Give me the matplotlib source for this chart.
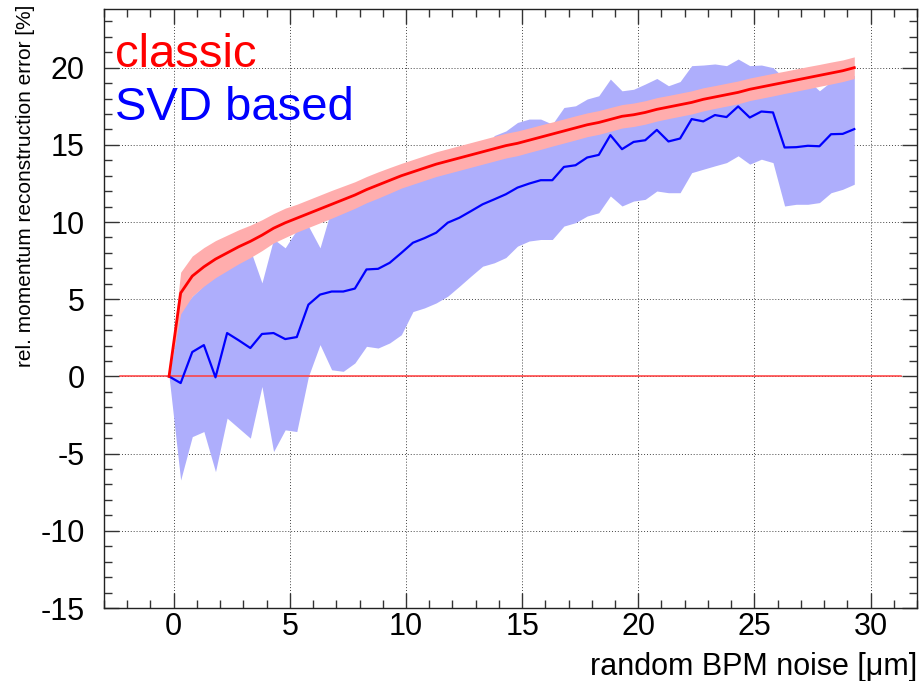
import matplotlib
matplotlib.use("Agg")
import matplotlib.pyplot as plt
from matplotlib.ticker import MultipleLocator

plt.rcParams['font.family'] = ['Liberation Sans', 'DejaVu Sans']
plt.rcParams['axes.unicode_minus'] = False

# noise steps [um]
noise = [-0.2, 0.3, 0.8, 1.3, 1.8, 2.3, 2.8, 3.3, 3.8, 4.3,
         4.8, 5.3, 5.8, 6.3, 6.8, 7.3, 7.8, 8.3, 8.8, 9.3,
         9.8, 10.3, 10.8, 11.3, 11.8, 12.3, 12.8, 13.3, 13.8, 14.3,
         14.8, 15.3, 15.8, 16.3, 16.8, 17.3, 17.8, 18.3, 18.8, 19.3,
         19.8, 20.3, 20.8, 21.3, 21.8, 22.3, 22.8, 23.3, 23.8, 24.3,
         24.8, 25.3, 25.8, 26.3, 26.8, 27.3, 27.8, 28.3, 28.8, 29.3]

# classic reconstruction: mean and band half width
classic = [0.0, 5.4, 6.5, 7.1, 7.6, 8.0, 8.4, 8.75, 9.15, 9.6,
           9.95, 10.25, 10.55, 10.85, 11.15, 11.45, 11.75, 12.1, 12.4, 12.7,
           13.0, 13.25, 13.5, 13.75, 13.95, 14.15, 14.35, 14.55, 14.75, 14.95,
           15.1, 15.3, 15.5, 15.7, 15.9, 16.1, 16.3, 16.45, 16.65, 16.85,
           16.95, 17.1, 17.3, 17.45, 17.6, 17.75, 17.95, 18.1, 18.25, 18.4,
           18.6, 18.75, 18.9, 19.05, 19.2, 19.35, 19.5, 19.65, 19.8, 20.0]
classic_err = [0.0, 1.35, 1.3, 1.25, 1.2, 1.15, 1.1, 1.05, 1.0, 0.95,
               0.95, 0.9, 0.9, 0.9, 0.9, 0.88, 0.86, 0.85, 0.85, 0.83,
               0.8, 0.8, 0.8, 0.8, 0.8, 0.8, 0.8, 0.8, 0.8, 0.8,
               0.8, 0.79, 0.79, 0.78, 0.78, 0.78, 0.77, 0.77, 0.77, 0.76,
               0.76, 0.76, 0.76, 0.75, 0.75, 0.75, 0.75, 0.74, 0.74, 0.74,
               0.73, 0.73, 0.73, 0.72, 0.72, 0.72, 0.71, 0.71, 0.7, 0.7]

# SVD based reconstruction: mean, upper and lower edge
svd = [0.0, -0.43, 1.58, 2.03, -0.06, 2.81, 2.34, 1.84, 2.75, 2.81,
       2.42, 2.55, 4.65, 5.3, 5.5, 5.5, 5.69, 6.93, 6.97, 7.36,
       8.0, 8.66, 8.96, 9.31, 9.96, 10.28, 10.71, 11.15, 11.47, 11.8,
       12.23, 12.49, 12.71, 12.71, 13.57, 13.68, 14.18, 14.35, 15.63, 14.72,
       15.19, 15.3, 15.97, 15.22, 15.41, 16.67, 16.52, 16.93, 16.8, 17.49,
       16.77, 17.16, 17.1, 14.83, 14.85, 14.94, 14.91, 15.69, 15.71, 16.02]
svd_hi = [0.0, 4.3, 5.2, 5.9, 6.5, 7.4, 7.8, 8.2, 6.06, 8.9,
          8.33, 9.5, 9.74, 8.33, 10.9, 11.2, 11.5, 11.8, 12.1, 12.4,
          12.7, 13.0, 13.2, 13.5, 13.7, 13.9, 14.1, 14.4, 15.6, 15.9,
          16.45, 16.67, 16.67, 16.34, 17.42, 17.53, 17.97, 18.18, 19.26, 18.5,
          18.6, 18.94, 19.3, 18.83, 19.1, 20.13, 20.17, 20.24, 20.13, 20.56,
          20.13, 20.17, 20.0, 19.3, 19.4, 19.2, 18.5, 19.1, 19.3, 19.5]
svd_lo = [0.0, -6.71, -3.9, -3.57, -6.17, -2.7, -3.35, -4.0, -0.65, -4.87,
          -3.46, -3.57, 0.0, 2.06, 0.43, 0.33, 0.87, 1.95, 1.84, 2.17,
          2.7, 4.2, 4.44, 4.76, 5.2, 5.84, 6.5, 7.14, 7.36, 7.7,
          8.44, 8.77, 8.87, 8.87, 9.74, 9.96, 10.39, 10.6, 11.69, 11.04,
          11.36, 11.47, 12.01, 11.9, 11.9, 13.2, 13.42, 13.64, 13.85, 14.29,
          13.75, 14.07, 13.85, 11.04, 11.15, 11.15, 11.26, 11.9, 12.12, 12.45]

fig = plt.figure(figsize=(9.22, 6.81), dpi=100)
ax = fig.add_axes([104/922, 1 - 608/681, (917 - 104)/922, (608 - 9)/681])

c_lo = [m - e for m, e in zip(classic, classic_err)]
c_hi = [m + e for m, e in zip(classic, classic_err)]

ax.fill_between(noise, svd_lo, svd_hi, color='#aeaefc', lw=0, zorder=2)
ax.fill_between(noise, c_lo, c_hi, color='#ffadad', lw=0, zorder=3)
ax.plot([-2.3, 31.3], [0, 0], color='#ff3c3c', lw=1.1, zorder=4)
ax.plot(noise, svd, color='blue', lw=1.6, zorder=5)
ax.plot(noise, classic, color='red', lw=2.0, zorder=6)

ax.set_xlim(-3, 32)
ax.set_ylim(-15, 23.8)
ax.xaxis.set_major_locator(MultipleLocator(5))
ax.xaxis.set_minor_locator(MultipleLocator(1))
ax.yaxis.set_major_locator(MultipleLocator(5))
ax.yaxis.set_minor_locator(MultipleLocator(1))
ax.tick_params(which='both', direction='in', top=True, right=True,
               color='#333333', labelsize=22)
ax.tick_params(which='major', length=11, width=1)
ax.tick_params(which='minor', length=6, width=1)
ax.tick_params(axis='x', pad=3)
ax.tick_params(axis='y', pad=14)
ax.grid(True, which='major', color='#444444', lw=0.7, ls=(0, (1, 2)), zorder=1)
for s in ax.spines.values():
    s.set_color('#222222')
    s.set_linewidth(1)

fig.text(917/922, 1 - 675/681, 'random BPM noise [\u03bcm]', ha='right',
         va='baseline', fontsize=22)
fig.text(26/922, 1 - 5/681, 'rel. momentum reconstruction error [%]',
         rotation=90, ha='center', va='top', fontsize=15)

fig.text(115/922, 1 - 67/681, 'classic', color='red', fontsize=34,
         va='baseline')
fig.text(115/922, 1 - 120/681, 'SVD based', color='blue', fontsize=34,
         va='baseline')

fig.savefig('out.png', dpi=100)
